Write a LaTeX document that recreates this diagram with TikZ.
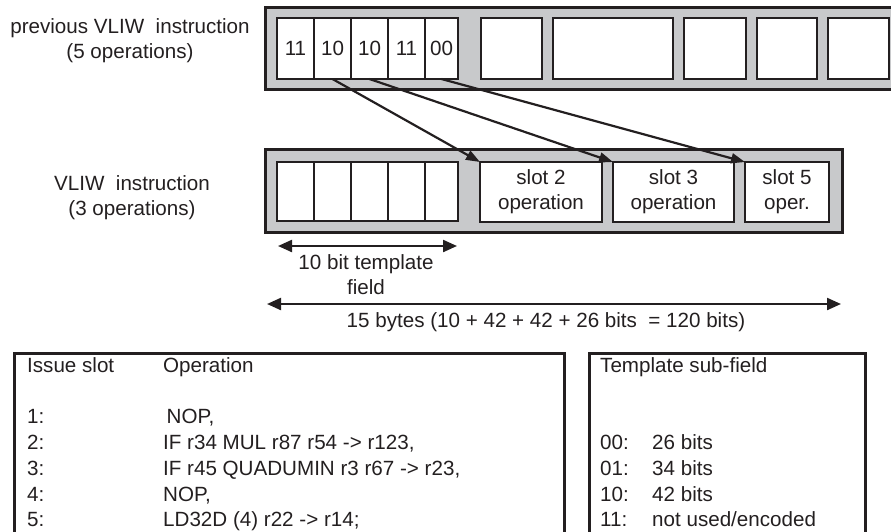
\documentclass[tikz,border=0pt]{standalone}
\usepackage{fontspec}
\setmainfont{Liberation Sans}
\usepackage{tikz}
\usetikzlibrary{arrows.meta,positioning}
\definecolor{vliwink} {RGB}{35, 31, 32}
\definecolor{vliwgray}{RGB}{200,201,203}
\newcommand{\vliwfont}{\fontsize{20.6}{25}\selectfont}
\tikzset{
  instbox/.style={draw=vliwink,fill=vliwgray,line width=3pt,
                  inner sep=0pt,outer sep=0pt,anchor=north west},
  cell/.style={draw=vliwink,fill=white,line width=2.5pt,
               inner sep=0pt,outer sep=0pt,minimum width=37pt,
               minimum height=61pt,font=\vliwfont,text=vliwink},
  cellend/.style={cell,minimum width=33pt},
  tcell/.style={cell,minimum height=59pt},
  opbox/.style={cell,anchor=north west,align=center},
  lbl/.style={font=\vliwfont,text=vliwink,align=center,inner sep=0pt},
  arr/.style={-{Triangle[length=14pt,width=10pt]},line width=2.2pt,color=vliwink},
  dimarr/.style={{Triangle[length=14pt,width=12pt]}-{Triangle[length=14pt,width=12pt]},
                 line width=2.2pt,color=vliwink},
  tablebox/.style={draw=vliwink,line width=3pt,inner sep=0pt,
                   outer sep=0pt,anchor=north west},
  entry/.style={font=\vliwfont,text=vliwink,inner sep=0pt,anchor=base west},
}

\begin{document}
\begin{tikzpicture}[x=1pt,y=-1pt]
  \useasboundingbox (0,0) rectangle (891,531);
  % previous instruction, 5 operations
  \node[lbl](prevlbl) at (130,41){previous VLIW\ \ instruction\\(5 operations)};
  \node[instbox,minimum width=640pt,minimum height=82pt](prev) at (265,7){};
  \node[cell,anchor=north west](p1) at (277,18){11};
  \node[cell,right=0pt of p1](p2){10};
  \node[cell,right=0pt of p2](p3){10};
  \node[cell,right=0pt of p3](p4){11};
  \node[cellend,right=0pt of p4](p5){00};
  \node[opbox,minimum width=61pt](q1) at (481,18){};
  \node[opbox,minimum width=120pt](q2) at (553,18){};
  \node[opbox,minimum width=62pt](q3) at (684,18){};
  \node[opbox,minimum width=60pt](q4) at (757,18){};
  \node[opbox,minimum width=61pt](q5) at (828,18){};

  % current instruction, 3 operations
  \node[lbl](curlbl) at (132,198){VLIW\ \ instruction\\(3 operations)};
  \node[instbox,minimum width=577pt,minimum height=83pt](cur) at (265,149){};
  \node[tcell,anchor=north west](c1) at (277,162){};
  \node[tcell,right=0pt of c1](c2){};
  \node[tcell,right=0pt of c2](c3){};
  \node[tcell,right=0pt of c3](c4){};
  \node[tcell,cellend,minimum height=59pt,right=0pt of c4](c5){};
  \node[opbox,minimum width=122pt,minimum height=60pt](s2) at (480,162){slot 2\\operation};
  \node[opbox,minimum width=121pt,minimum height=60pt](s3) at (613,162){slot 3\\operation};
  \node[opbox,minimum width=84pt,minimum height=60pt](s5) at (745,162){slot 5\\oper.};

  \draw[arr](p2.south)--(s2.north west);
  \draw[arr](p3.south)--(s3.north west);
  \draw[arr](p5.south)--(s5.north west);

  \coordinate(tplL) at (278,246);
  \coordinate(tplR) at (457,246);
  \draw[dimarr](tplL)--(tplR);
  \node[lbl](tpllbl) at (366,275){10 bit template\\field};
  \coordinate(totL) at (267,304);
  \coordinate(totR) at (841,304);
  \draw[dimarr](totL)--(totR);
  \node[lbl](totlbl) at (546,322){15 bytes (10 + 42 + 42 + 26 bits\ \ = 120 bits)};

  % tables
  \node[tablebox,minimum width=550pt,minimum height=200pt](ops) at (14,353){};
  \node[entry](slothd) at (27,372.5){Issue slot};
  \node[entry](ophd) at (163,372.5){Operation};
  \foreach \n/\op [count=\i] in {1/{\hspace{3.5pt}NOP,},2/{IF r34 MUL r87 r54 -> r123,},
      3/{IF r45 QUADUMIN r3 r67 -> r23,},4/{NOP,},5/{LD32D (4) r22 -> r14;}}
    {\node[entry](slot\i) at (27,{372.5+(\i+1)*25.7}){\n:};
     \node[entry](op\i) at (163,{372.5+(\i+1)*25.7}){\op};}

  \node[tablebox,minimum width=276pt,minimum height=200pt](tmpl) at (589,353){};
  \node[entry](tmplhd) at (600,372.5){Template sub-field};
  \foreach \c/\w [count=\i] in {00/{26 bits},01/{34 bits},10/{42 bits},11/{not used/encoded}}
    {\node[entry](code\i) at (600,{372.5+(\i+2)*25.7}){\c:};
     \node[entry](size\i) at (652,{372.5+(\i+2)*25.7}){\w};}
\end{tikzpicture}
\end{document}
